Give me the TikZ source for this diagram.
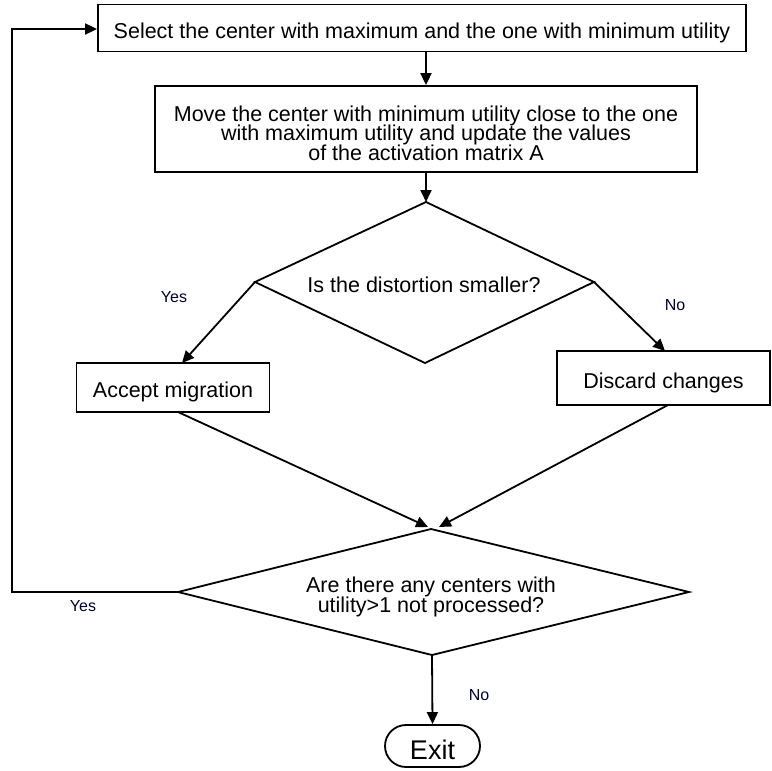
\documentclass[tikz,border=0pt]{standalone}
\usepackage{fontspec}
\setmainfont{Liberation Sans}
\usetikzlibrary{arrows.meta,shapes.misc}
\lineskiplimit=-30pt
\begin{document}
\begin{tikzpicture}[x=1pt,y=-1pt,
  line width=1.8pt,
  arr/.style={-{Triangle[length=12pt,width=11pt]}},
  box/.style={draw,rectangle,inner sep=0pt,align=center,font=\fontsize{21.5}{19.5}\selectfont},
  txt/.style={inner sep=0pt,align=center,font=\fontsize{21.5}{19.5}\selectfont},
  lbl/.style={inner sep=0pt,font=\fontsize{16}{18}\selectfont,text=black!80!blue}]
\useasboundingbox (0,0) rectangle (772,771);
% boxes
\node[box,minimum width=648pt,minimum height=47pt,text height=20pt,text depth=0pt] (b1) at (422,28) {Select the center with maximum and the one with minimum utility};
\node[box,minimum width=542pt,minimum height=86pt] (b2) at (426,129) {};
\node[txt] (b2t) at (426,133) {Move the center with minimum utility close to the one\\with maximum utility and update the values\\of the activation matrix A};
\node[box,minimum width=193pt,minimum height=49pt,text height=19pt,text depth=0pt] (acc) at (173,387.5) {Accept migration};
\node[box,minimum width=213pt,minimum height=54pt,text height=21pt,text depth=0pt] (dis) at (663.5,378) {Discard changes};
\node[draw,rounded rectangle,inner sep=0pt,minimum width=95pt,minimum height=42pt,text height=27pt,text depth=0pt,font=\fontsize{27}{30}\selectfont] (exit) at (432.5,746) {Exit};
% diamond 1
\coordinate (d1t) at (426,202);
\coordinate (d1l) at (255,282);
\coordinate (d1r) at (594,282);
\coordinate (d1b) at (425,363);
\draw (d1t) -- (d1r) -- (d1b) -- (d1l) -- cycle;
\node[txt] (q1) at (424,285) {Is the distortion smaller?};
% diamond 2
\coordinate (d2t) at (431,529);
\coordinate (d2l) at (178,592);
\coordinate (d2r) at (689,592);
\coordinate (d2b) at (432,655);
\draw (d2t) -- (d2r) -- (d2b) -- (d2l) -- cycle;
\node[txt] (q2) at (431,597) {Are there any centers with\\utility>1 not processed?};
% connectors
\draw[arr] (b1.south -| d1t) ++(0,0) coordinate (s1) (s1) -- (b2.north -| s1);
\draw[arr] (b2.south -| d1t) -- (d1t);
\coordinate (ta) at (182,363);
\coordinate (td) at (665,351);
\draw[arr] (d1l) -- (ta);
\draw[arr] (d1r) -- (td);
\coordinate (fa) at (178,412);
\coordinate (fd) at (668,405);
\coordinate (m1) at (428,527);
\coordinate (m2) at (439,527);
\draw[arr] (fa) -- (m1);
\draw[arr] (fd) -- (m2);
\coordinate (c1) at (12,592);
\coordinate (c2) at (12,29);
\draw[arr] (d2l) -- (c1) -- (c2) -- (b1.west |- c2);
\draw[arr] (d2b) -- (exit.north);
% labels
\node[lbl] (y1) at (174,297) {Yes};
\node[lbl] (n1) at (675,305) {No};
\node[lbl] (y2) at (83,606) {Yes};
\node[lbl] (n2) at (479,695) {No};
\end{tikzpicture}
\end{document}
